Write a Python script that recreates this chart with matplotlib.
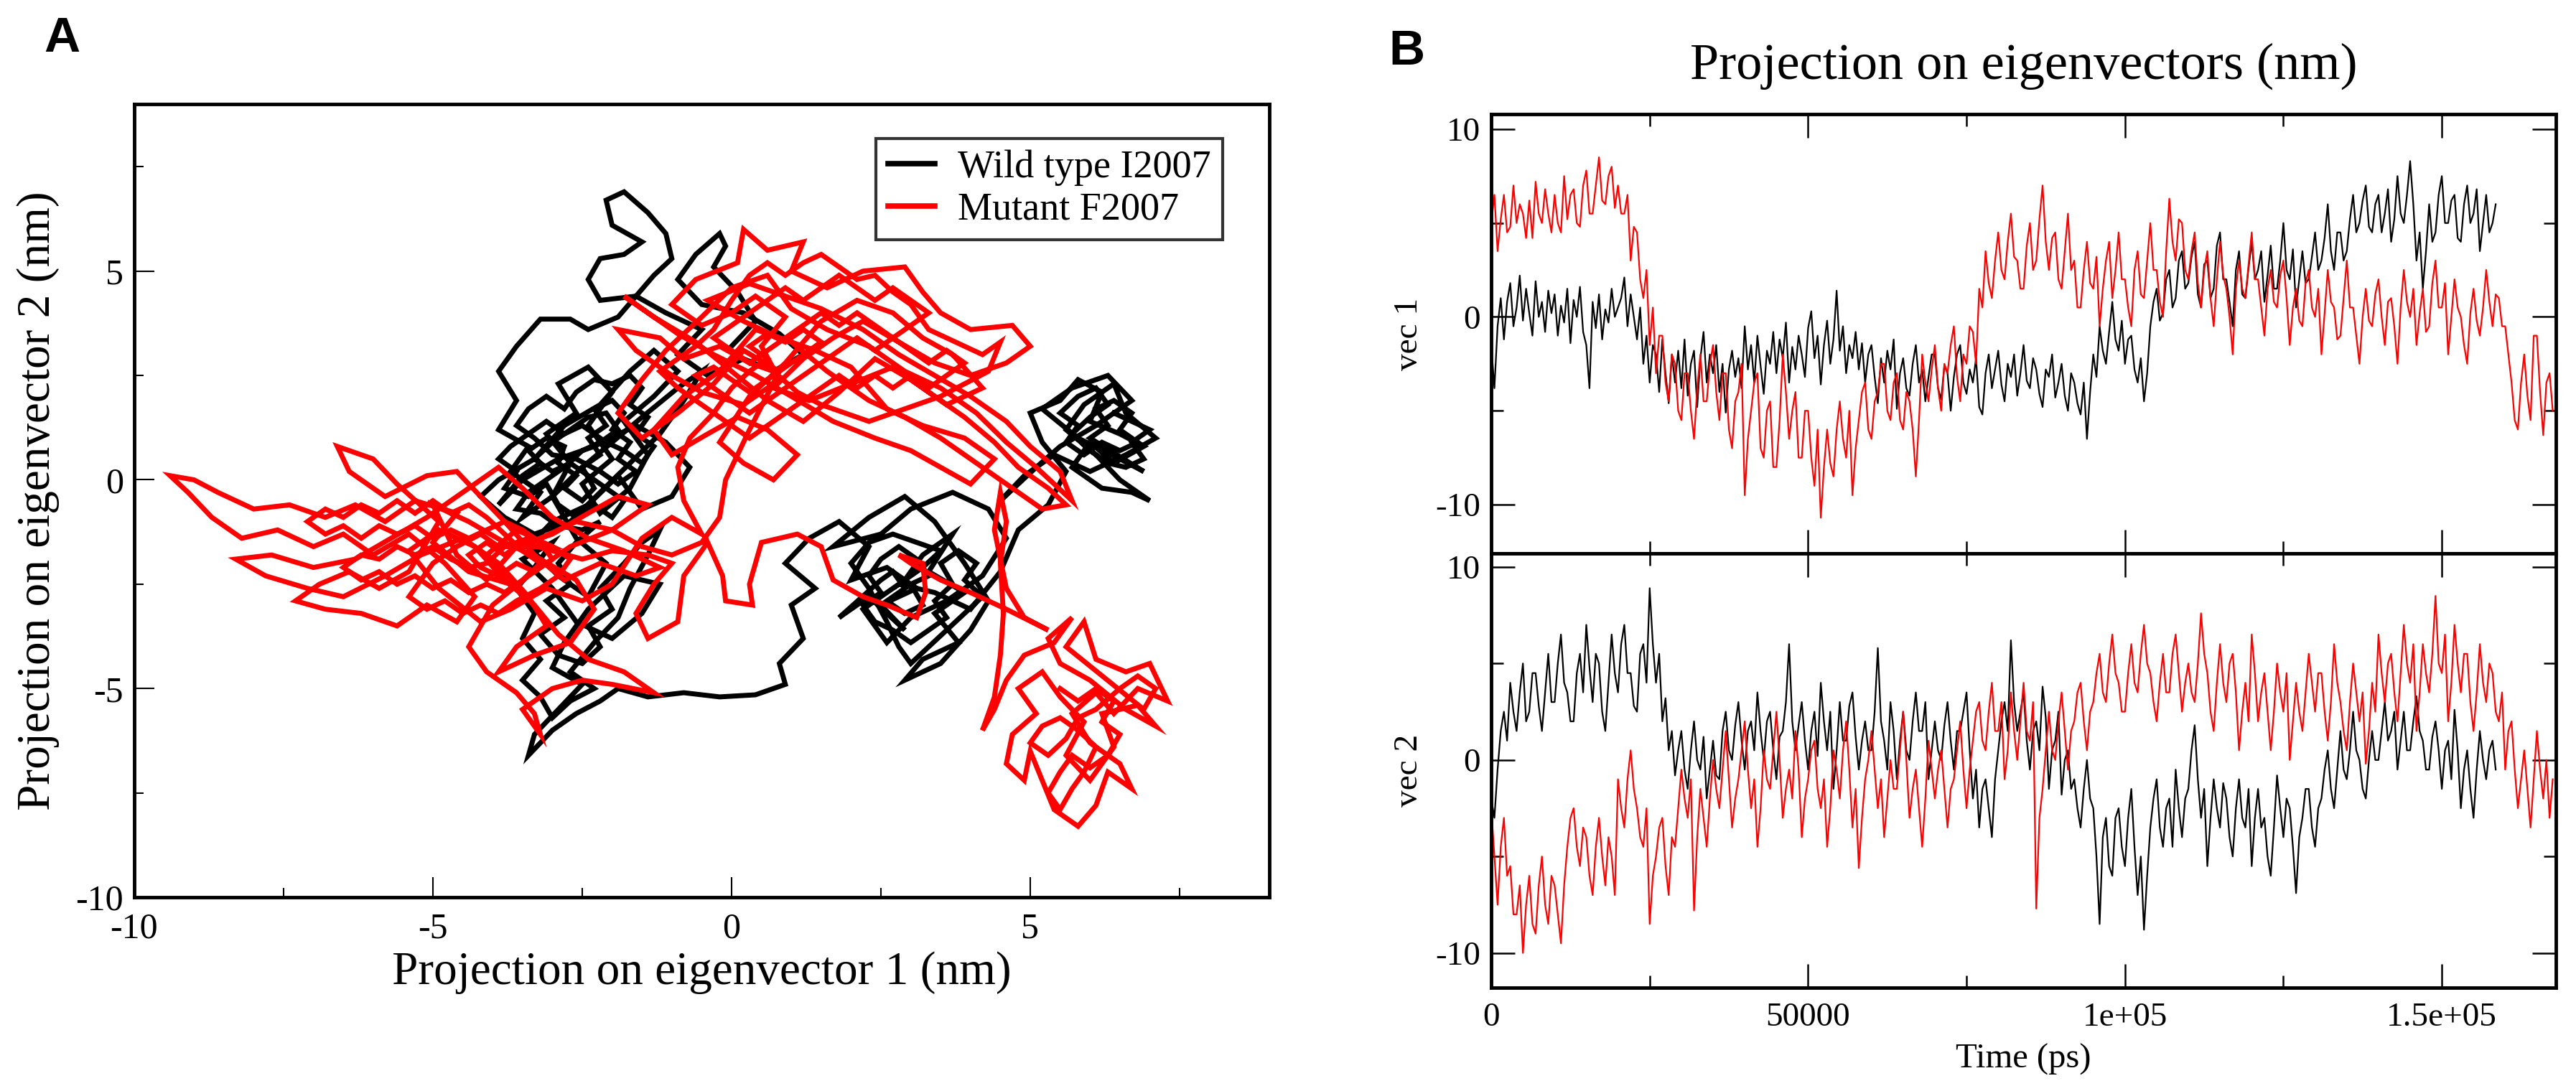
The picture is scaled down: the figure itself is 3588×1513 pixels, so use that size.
import matplotlib.pyplot as plt
from matplotlib.ticker import MultipleLocator

plt.rcParams['font.family'] = 'serif'
plt.rcParams['font.serif'] = ['Liberation Serif', 'DejaVu Serif']
plt.rcParams['axes.unicode_minus'] = False

# ---------------- panel A : 2D projection (vec1, vec2) ----------------
wt_upper_left = [
    (0.0, 3.2), (0.4, 3.8), (0.1, 4.5), (-0.3, 5.1), (-0.1, 5.6), (-0.2, 5.9), (-0.6, 5.4), (-0.9, 4.8),
    (-0.5, 4.2), (0.2, 4.0), (0.8, 3.5), (1.2, 3.0), (0.7, 2.6), (0.2, 2.9), (-0.4, 2.5), (-0.9, 3.0),
    (-0.5, 3.6), (-1.1, 4.0), (-1.6, 4.4), (-2.2, 4.3), (-2.4, 4.8), (-2.2, 5.3), (-1.8, 5.4), (-1.5, 5.7),
    (-2.0, 6.1), (-2.1, 6.7), (-1.8, 6.9), (-1.4, 6.4), (-1.1, 5.9), (-1.0, 5.3), (-1.3, 4.9), (-1.6, 4.4),
    (-1.9, 3.9), (-2.4, 3.6), (-2.7, 3.85), (-3.2, 3.85), (-3.6, 3.2), (-3.9, 2.6), (-3.6, 1.9), (-3.9, 1.2),
    (-3.4, 0.8), (-3.7, 0.2), (-3.2, -0.3), (-3.5, -0.9), (-3.0, -0.4), (-2.7, 0.4), (-3.1, 1.1), (-2.6, 1.6),
    (-2.9, 2.3), (-2.4, 2.7), (-2.0, 2.1), (-2.4, 1.3), (-2.0, 0.5), (-2.5, -0.1), (-2.2, -0.8), (-1.7, -0.2),
    (-1.4, 0.6), (-1.8, 1.4), (-1.3, 2.0), (-0.9, 2.6), (-1.3, 3.1), (-1.7, 2.6), (-2.2, 1.8), (-2.8, 1.3),
    (-3.3, 0.5), (-3.9, 0.0), (-4.2, -0.4), (-3.8, -0.9), (-3.3, -1.3), (-2.7, -1.0), (-2.2, -0.3), (-1.7, 0.4),
    (-1.2, 1.1), (-0.8, 1.9), (-0.5, 2.6), (-0.9, 2.2), (-1.5, 1.5), (-2.0, 0.9), (-2.5, 0.3), (-3.0, -0.4),
    (-2.6, -1.4), (-2.1, -2.0), (-2.4, -2.8), (-2.9, -2.3), (-3.4, -1.6), (-3.0, -1.0), (-2.4, -0.6), (-1.9, 0.1),
    (-1.5, -0.7), (-1.0, -0.4), (-0.7, 0.3), (-1.1, 0.9), (-1.6, 1.3), (-2.3, 0.8), (-2.9, 0.5), (-3.5, 0.0),
    (-3.9, -0.6),
]
wt_dense = [
    (-3.5, 0.1), (-3.2, 0.4), (-3.4, 0.7), (-3.1, 1.0), (-2.8, 0.8), (-2.9, 0.4), (-2.6, 0.1), (-2.8, -0.2),
    (-2.5, -0.5), (-2.3, -0.2), (-2.5, 0.3), (-2.2, 0.6), (-2.4, 1.0), (-2.1, 1.3), (-2.3, 1.7), (-2.0, 1.9),
    (-1.8, 1.6), (-2.0, 1.2), (-1.7, 0.9), (-1.9, 0.5), (-1.6, 0.2), (-1.9, -0.1), (-2.2, 0.2), (-2.6, 0.5),
    (-3.0, 0.6), (-3.3, 1.0), (-3.6, 1.3), (-3.4, 1.7), (-3.1, 2.0), (-2.8, 1.7), (-2.6, 2.1), (-2.3, 2.4),
    (-2.0, 2.3), (-1.7, 2.5), (-1.5, 2.2), (-1.7, 1.8), (-1.4, 1.5), (-1.6, 1.1), (-1.3, 0.8), (-1.5, 0.4),
    (-1.8, 0.7), (-2.1, 0.9), (-2.5, 1.3), (-2.8, 1.1), (-3.1, 1.4), (-3.4, 1.1), (-3.7, 0.8), (-3.9, 0.5),
    (-3.6, 0.2), (-3.8, -0.2), (-3.4, -0.4), (-3.1, -0.1), (-2.9, -0.6), (-2.6, -0.9), (-2.3, -0.6), (-2.0, -0.9),
    (-1.8, -0.5), (-2.1, -0.2), (-2.4, 0.1), (-2.7, 0.4), (-3.0, 0.2), (-3.3, 0.5), (-3.0, 0.9), (-2.7, 1.2),
    (-2.4, 1.5), (-2.1, 1.6), (-1.9, 1.2), (-2.2, 0.9), (-2.5, 0.7), (-2.8, 0.3), (-3.1, 0.0), (-3.4, -0.3),
    (-3.6, -0.7), (-3.2, -0.8), (-2.9, -1.1), (-2.5, -1.2), (-2.2, -1.0),
]
wt_strands = [
    (-2.6, -1.5), (-2.9, -2.0), (-2.7, -2.5), (-3.1, -2.9), (-2.8, -3.3), (-3.2, -3.7), (-2.9, -4.2), (-2.5, -4.4),
    (-2.2, -4.0), (-2.4, -3.5), (-2.0, -3.1), (-2.2, -2.6), (-1.8, -2.0), (-1.5, -1.5), (-1.2, -1.2), (-1.4, -1.8),
    (-1.7, -2.6), (-1.9, -3.3), (-2.3, -3.9), (-2.7, -4.6), (-2.3, -5.0), (-2.7, -5.3), (-3.0, -5.7), (-3.2, -5.2),
    (-3.5, -4.8), (-3.2, -4.3), (-3.5, -3.8), (-3.3, -3.2), (-3.6, -2.6), (-3.3, -2.1), (-3.0, -1.5),
]
wt_lower = [
    (-3.5, -1.9), (-3.0, -2.6), (-2.6, -3.4), (-2.0, -3.8), (-1.5, -3.2), (-1.2, -2.5), (-1.8, -2.3), (-2.4, -3.1),
    (-2.8, -3.9), (-3.0, -4.5), (-2.5, -4.9), (-2.9, -5.5), (-3.3, -6.1), (-3.4, -6.6), (-3.0, -6.0), (-2.6, -5.6),
    (-2.2, -5.3), (-1.9, -5.0), (-1.4, -5.2), (-0.8, -5.1), (-0.2, -5.2), (0.4, -5.15), (0.9, -4.9), (0.8, -4.4),
    (1.2, -3.8), (1.0, -3.0), (1.4, -2.6), (0.9, -2.0), (1.3, -1.4), (1.8, -1.0), (2.3, -1.6), (2.0, -2.4),
    (2.6, -2.1), (3.1, -2.6), (2.5, -3.0), (2.9, -3.6), (2.3, -2.8), (1.8, -3.3), (2.5, -2.4),
]
wt_mid_cluster = [
    (2.7, -2.2), (2.9, -2.6), (2.6, -2.9), (2.9, -3.2), (3.2, -3.0), (3.0, -2.5), (3.3, -2.3), (3.1, -1.9),
    (2.8, -1.6), (2.5, -1.9), (2.3, -2.3), (2.5, -2.7), (2.2, -3.0), (2.4, -3.4), (2.7, -3.6), (3.0, -3.9),
    (3.3, -3.6), (3.6, -3.3), (3.4, -2.9), (3.7, -2.5), (3.5, -2.0), (3.8, -1.7), (4.1, -2.0), (3.9, -2.4),
    (4.2, -2.8), (3.9, -3.2), (3.6, -3.6), (3.3, -4.0), (3.0, -4.4), (2.8, -4.0), (2.6, -3.4), (2.3, -2.6),
    (2.0, -2.0), (2.3, -1.5), (2.7, -1.3), (3.1, -1.5), (3.5, -1.7), (3.2, -2.1), (2.9, -2.4),
]
wt_right = [
    (3.2, -1.8), (3.7, -1.3), (3.3, -2.2), (3.9, -2.7), (3.4, -3.2), (3.8, -3.9), (3.2, -4.3), (2.9, -4.8),
    (3.5, -4.4), (4.0, -3.6), (4.3, -2.9), (3.9, -2.0), (3.4, -1.0), (2.9, -0.4), (2.3, -0.9), (1.7, -1.6),
    (2.5, -1.3), (3.0, -0.7), (3.7, -0.3), (4.3, -0.7), (4.6, -1.4), (4.2, -2.3), (3.6, -2.9), (3.0, -3.3),
    (2.6, -3.9), (2.2, -3.1), (2.8, -2.5), (3.4, -2.7), (4.0, -3.1), (4.5, -2.2), (4.8, -1.2), (5.3, -0.6),
    (5.6, 0.2), (5.2, 0.9), (5.0, 1.6), (5.5, 1.9), (5.8, 2.4), (6.2, 2.1), (6.0, 1.4), (6.5, 1.1),
    (6.9, 0.8), (6.4, 0.4), (6.0, 0.9), (5.7, 0.3), (6.2, -0.2), (6.7, -0.3), (7.0, -0.5), (6.5, 0.0),
    (6.1, 0.6), (5.6, 1.2), (5.9, 1.8), (6.4, 2.3), (6.6, 1.6), (7.1, 1.0), (6.6, 0.6), (6.0, 0.2),
    (5.4, 0.6), (4.9, 0.1), (4.5, -0.5), (5.1, 0.3), (5.5, 0.8), (6.1, 1.3), (6.7, 1.9), (6.3, 2.5),
    (5.7, 2.2), (5.2, 1.7), (5.8, 1.0), (6.5, 0.5), (6.9, 0.2),
]
wt_right_dense = [
    (6.0, 1.0), (6.3, 1.3), (6.1, 1.7), (6.4, 1.9), (6.7, 1.6), (6.5, 1.2), (6.8, 0.9), (6.5, 0.7),
    (6.2, 0.9), (5.9, 0.6), (5.6, 0.9), (5.8, 1.3), (5.5, 1.6), (5.8, 2.0), (6.1, 2.2), (6.3, 1.8),
    (6.0, 1.5), (5.7, 1.1), (6.0, 0.7), (6.3, 0.4), (6.6, 0.3), (6.9, 0.5), (6.7, 0.9), (7.0, 1.2),
    (6.7, 1.4), (6.4, 1.6),
]

mut_right_dense = [
    (5.5, -5.0), (5.8, -5.3), (6.1, -5.0), (6.4, -5.3), (6.2, -5.8), (6.5, -6.1), (6.3, -6.6), (6.0, -6.9),
    (5.7, -6.6), (5.5, -7.0), (5.3, -7.5), (5.5, -7.9), (5.7, -7.4), (5.9, -7.0), (6.1, -6.4), (5.8, -6.0),
    (5.5, -5.7), (5.2, -5.9), (5.0, -6.3), (5.3, -6.6), (5.6, -6.2), (5.8, -5.7), (6.1, -5.5), (6.5, -5.0),
    (6.8, -4.7), (7.1, -5.0), (6.9, -5.5),
]
mut_right = [
    (5.6, -4.0), (5.9, -3.4), (6.1, -4.3), (6.6, -4.6), (7.0, -4.4), (7.3, -5.3), (6.8, -5.0), (6.4, -5.6),
    (6.1, -5.1), (5.7, -5.6), (6.0, -6.3), (6.5, -6.8), (6.7, -7.4), (6.3, -7.0), (6.1, -7.8), (5.8, -8.3),
    (5.4, -7.9), (5.2, -7.2), (5.0, -6.5), (4.9, -7.2), (4.6, -6.8), (4.7, -6.1), (5.1, -5.6), (4.8, -5.0),
    (5.2, -4.6), (5.5, -5.2), (5.9, -5.8), (5.6, -6.6), (6.0, -7.2), (6.4, -6.4), (6.2, -5.6), (6.8, -5.4),
    (7.1, -5.9), (6.6, -5.5), (6.0, -4.8), (5.5, -4.4), (5.3, -3.8), (5.7, -3.3), (5.4, -3.9), (4.9, -4.2),
    (4.6, -4.8), (4.4, -5.5), (4.2, -6.0), (4.4, -5.2), (4.5, -4.2), (4.55, -3.2), (4.5, -2.0), (4.6, -1.0),
    (4.5, -0.3), (4.4, -1.2), (4.6, -2.6), (4.9, -3.3), (5.3, -3.6),
    (4.6, -3.1), (4.0, -2.7), (3.5, -2.4), (3.0, -2.0), (2.8, -1.8), (3.2, -2.0), (3.25, -2.7), (3.1, -3.3),
    (2.6, -3.0), (2.2, -2.8), (1.7, -2.4), (1.5, -1.6), (1.1, -1.3), (0.5, -1.5), (0.3, -2.5), (0.35, -3.0),
    (-0.1, -2.9), (-0.15, -2.3), (-0.4, -1.5), (-0.8, -2.3), (-0.9, -3.4), (-1.4, -3.8), (-1.6, -3.2),
    (-1.3, -2.5), (-1.0, -2.0), (-1.4, -1.8), (-2.0, -1.7), (-2.5, -1.9),
]
mut_left_dense = [
    (-3.5, -1.5), (-3.8, -1.8), (-4.1, -1.5), (-4.4, -1.8), (-4.2, -2.1), (-3.9, -2.3), (-3.6, -2.0), (-3.3, -2.2),
    (-3.0, -1.9), (-3.2, -1.5), (-3.5, -1.2), (-3.8, -1.0), (-4.1, -1.2), (-4.4, -1.4), (-4.7, -1.2), (-5.0, -1.4),
    (-5.3, -1.1), (-5.6, -1.3), (-5.9, -1.1), (-6.2, -1.4), (-6.5, -1.1), (-6.8, -1.3), (-7.1, -1.0), (-6.8, -0.7),
    (-6.5, -0.9), (-6.2, -0.6), (-5.9, -0.8), (-5.6, -0.5), (-5.3, -0.8), (-5.0, -0.5), (-4.7, -0.8), (-4.4, -0.6),
    (-4.1, -0.9), (-3.8, -1.3), (-3.5, -1.7), (-3.2, -2.0), (-3.5, -2.4), (-3.8, -2.7), (-4.1, -2.5), (-4.4, -2.7),
    (-4.7, -2.4), (-5.0, -2.6), (-5.3, -2.3), (-5.6, -2.5), (-5.9, -2.2), (-6.2, -2.4), (-6.5, -2.1), (-6.2, -1.8),
    (-5.9, -1.9), (-5.6, -1.6), (-5.3, -1.8), (-5.0, -1.6), (-4.7, -1.9), (-4.4, -2.1), (-4.1, -2.0), (-3.8, -1.6),
    (-3.4, -1.4), (-3.0, -1.6), (-2.7, -1.9), (-2.9, -2.3), (-3.2, -2.6), (-3.6, -2.9), (-3.9, -3.2), (-4.2, -3.0),
    (-4.5, -3.2), (-4.8, -2.9), (-5.1, -3.1), (-5.4, -2.8), (-5.0, -2.0), (-4.6, -1.6), (-4.2, -1.3), (-3.9, -1.6),
]
mut_left = [
    (-3.0, -1.6), (-3.6, -1.2), (-4.1, -1.8), (-3.7, -2.5), (-4.4, -2.2), (-5.0, -1.5), (-4.6, -0.8), (-5.3, -0.5),
    (-5.8, -1.0), (-6.3, -0.6), (-6.8, -0.9), (-7.4, -0.6), (-8.0, -0.7), (-8.6, -0.3), (-9.0, 0.0), (-9.4, 0.1),
    (-9.1, -0.3), (-8.7, -0.9), (-8.2, -1.4), (-7.6, -1.2), (-7.0, -1.6), (-6.5, -1.3), (-6.0, -1.8), (-5.4, -1.3),
    (-4.8, -2.0), (-4.3, -2.8), (-4.6, -3.4), (-5.1, -3.0), (-5.6, -3.5), (-6.2, -3.2), (-6.8, -3.1), (-7.3, -2.9),
    (-6.9, -2.5), (-6.4, -2.2), (-5.9, -2.6), (-5.4, -2.2), (-4.9, -1.0), (-5.6, -0.1), (-6.0, 0.5), (-6.6, 0.8),
    (-6.4, 0.2), (-5.8, -0.4), (-5.1, 0.1), (-4.6, 0.2), (-4.2, -0.4), (-3.8, -1.0), (-3.3, -1.8), (-2.8, -2.4),
    (-2.2, -2.0), (-1.6, -2.3), (-1.2, -2.1), (-1.8, -1.7), (-2.4, -1.4), (-3.0, -0.9), (-3.5, -0.2), (-3.9, 0.3),
    (-4.5, -0.3), (-5.1, -0.9), (-5.7, -1.4), (-6.3, -1.9), (-7.0, -2.1), (-7.7, -1.8), (-8.3, -1.9), (-7.8, -2.3),
    (-7.1, -2.6), (-6.5, -2.8), (-5.8, -2.3), (-5.2, -1.8), (-4.5, -1.4), (-3.9, -2.0), (-3.4, -2.8), (-3.1, -3.5),
    (-3.6, -4.0), (-3.9, -4.6), (-3.3, -4.2), (-2.7, -3.9), (-2.3, -3.1), (-2.6, -2.4), (-3.2, -1.9), (-3.8, -1.5),
    (-4.4, -1.0), (-5.0, -0.6), (-4.6, -1.8), (-4.1, -2.4), (-3.6, -1.6), (-3.0, -1.3), (-2.4, -0.8), (-1.9, -0.4),
    (-1.4, -0.6), (-2.0, -1.2), (-2.7, -1.6), (-3.4, -2.3), (-4.0, -3.0), (-4.4, -4.0), (-4.1, -4.6), (-3.6, -5.1),
    (-3.3, -5.6), (-3.2, -6.1), (-3.5, -5.5), (-3.0, -5.0), (-2.5, -4.8), (-2.0, -4.9), (-1.3, -5.1), (-1.8, -4.6),
    (-2.4, -4.3), (-2.9, -3.7), (-3.3, -3.0), (-3.8, -2.4), (-4.3, -1.6), (-4.9, -1.2), (-5.4, -1.7), (-4.9, -2.6),
    (-4.2, -3.4), (-3.7, -3.1), (-3.1, -2.6), (-2.5, -2.9), (-2.0, -2.5), (-1.5, -1.4), (-1.0, -0.9), (-0.5, -1.3),
    (-0.8, -0.5), (-0.9, 0.3), (-0.7, 1.0), (-0.3, 1.6), (0.0, 2.2),
]
mut_upper_dense = [
    (0.3, 2.6), (0.6, 2.9), (0.3, 3.2), (0.6, 3.5), (0.9, 3.3), (1.2, 3.6), (1.5, 3.3), (1.2, 3.0),
    (0.9, 2.7), (0.6, 2.4), (0.3, 2.1), (0.0, 2.4), (-0.3, 2.7), (-0.6, 2.5), (-0.3, 2.2), (0.0, 1.9),
    (0.3, 1.6), (0.6, 1.9), (0.9, 2.2), (1.2, 2.5), (1.5, 2.8), (1.8, 3.1), (2.1, 3.4), (2.4, 3.1),
    (2.7, 3.4), (3.0, 3.7), (3.3, 4.0), (3.0, 4.3), (2.7, 4.6), (2.4, 4.3), (2.1, 4.6), (1.8, 4.9),
    (1.5, 4.6), (1.2, 4.3), (0.9, 4.6), (0.6, 4.3), (0.3, 4.0), (0.0, 3.7), (-0.3, 3.4), (0.0, 3.1),
    (0.3, 2.8), (0.6, 3.1), (0.9, 3.4), (1.2, 3.7), (1.5, 4.0), (1.8, 3.7), (2.1, 4.0), (2.4, 3.7),
    (2.7, 3.4), (3.0, 3.1), (3.3, 2.8), (3.6, 3.1), (3.9, 2.8), (3.6, 2.5), (3.3, 2.2), (3.0, 2.5),
    (2.7, 2.2), (2.4, 2.5), (2.1, 2.2), (1.8, 2.5), (1.5, 2.2), (1.2, 1.9), (0.9, 1.6), (0.6, 1.3),
    (0.3, 1.0), (0.0, 1.3), (-0.3, 1.6), (-0.6, 1.9), (-0.9, 2.2), (-1.2, 2.6), (-0.9, 2.9), (-0.6, 3.2),
    (-0.3, 3.6), (0.0, 4.3), (0.3, 4.9), (0.6, 5.2), (0.9, 4.9), (1.2, 5.2), (1.5, 5.4), (1.8, 5.1),
    (2.1, 4.8), (2.4, 4.9), (2.7, 4.5), (3.0, 4.2), (3.3, 3.6), (3.6, 3.4), (3.9, 3.2), (4.2, 3.0),
    (4.5, 3.3), (4.3, 2.6), (3.9, 2.3), (3.5, 2.0), (3.1, 1.8), (2.7, 1.6), (2.3, 1.4), (1.9, 1.6),
    (1.5, 1.8), (1.1, 2.1), (0.7, 2.6),
]
mut_upper = [
    (0.3, 2.8), (-0.2, 3.2), (-0.8, 2.9), (-1.2, 3.4), (-1.9, 3.6), (-1.6, 3.1), (-1.0, 2.5), (-0.5, 2.1),
    (0.2, 1.8), (0.8, 2.4), (0.5, 3.2), (0.9, 3.9), (0.4, 4.4), (0.0, 4.0), (-0.5, 3.7), (-1.0, 4.2),
    (-0.6, 4.8), (0.1, 5.2), (0.2, 6.0), (0.6, 5.5), (1.2, 5.7), (1.0, 5.0), (1.6, 4.6), (2.2, 5.0),
    (2.9, 5.1), (3.2, 4.5), (3.5, 4.0), (4.0, 3.6), (4.7, 3.7), (5.0, 3.2), (4.6, 2.8), (4.0, 2.5),
    (3.4, 2.8), (2.8, 3.3), (2.2, 3.8), (1.7, 3.4), (1.2, 2.9), (0.7, 2.2), (1.3, 1.9), (2.0, 2.3),
    (2.7, 2.7), (3.3, 2.1), (3.9, 1.5), (4.4, 0.9), (4.8, 0.3), (5.3, -0.2), (5.6, -0.6), (5.2, -0.7),
    (4.7, -0.2), (4.1, 0.4), (3.5, 1.0), (2.9, 1.5), (2.3, 1.9), (1.6, 2.6), (1.0, 3.3), (0.4, 3.6),
    (-0.2, 2.6), (-0.8, 2.0), (-1.3, 1.2), (-1.0, 0.6), (-0.4, 1.1), (0.1, 1.5), (0.6, 1.2), (1.1, 0.6),
    (0.7, 0.0), (0.2, 0.4), (-0.2, 0.9), (0.3, 2.0), (0.9, 2.8), (1.5, 3.8), (2.1, 4.3), (2.7, 4.0),
    (3.2, 3.4), (3.7, 3.0), (4.2, 2.2), (3.6, 1.8), (3.0, 2.4), (2.4, 2.9), (1.8, 2.1), (1.2, 1.4),
    (0.6, 1.9), (0.0, 2.6), (-0.6, 3.3), (-1.3, 3.9), (-1.8, 4.4), (-1.4, 4.0), (-0.9, 3.5), (-0.3, 3.0),
    (0.4, 2.5), (1.0, 2.0), (1.7, 1.4), (2.4, 1.0), (3.0, 0.7), (3.5, 0.3), (4.0, -0.1), (4.4, 0.5),
    (3.9, 1.0), (3.2, 1.3), (2.6, 1.7), (2.0, 2.7), (1.4, 3.1), (0.8, 3.4), (0.2, 3.8), (-0.4, 4.3),
    (0.3, 4.7), (0.9, 4.4), (1.5, 4.1), (2.2, 3.6), (2.8, 3.0), (3.4, 2.5), (4.0, 2.0), (4.6, 1.4),
    (5.0, 0.8), (5.5, 0.2), (5.7, -0.5), (5.1, 0.3), (4.6, 0.9), (4.1, 1.6), (3.5, 2.2), (2.9, 2.6),
    (2.3, 3.2), (1.6, 3.6), (1.0, 4.1), (0.6, 4.9), (0.0, 4.6), (-0.5, 3.9), (-1.1, 3.1), (-1.5, 2.4),
    (-1.9, 1.6), (-1.5, 1.0), (-0.9, 1.6), (-0.3, 2.3), (0.2, 3.1), (0.8, 2.6),
    (0.3, 1.2), (-0.1, 0.0), (-0.2, -0.9), (-0.5, -1.5), (-1.0, -1.8), (-1.5, -1.6), (-2.0, -1.2),
    (-2.6, -1.0), (-3.2, -1.4),
]

wt_path = wt_upper_left + wt_dense + wt_strands + wt_lower + wt_mid_cluster + wt_right + wt_right_dense
mut_path = mut_right_dense + mut_right + mut_left_dense + mut_left + mut_upper_dense + mut_upper

# ---------------- panel B : projections vs time, one value per 500 ps ----------------
wt_vec1 = [
    -1.5, -3.8, -0.5, 1.0, -1.2, 0.8, 1.8, -0.5, 0.5, 2.2, -0.2, 1.5, 0.2, -1.0, 1.9, 0.0, 0.8, -0.8, 1.4, 0.2,
    1.2, -1.0, 0.6, -0.3, 1.5, -1.4, 0.9, 0.0, 1.6, -0.8, -1.5, -3.8, 0.8, -0.6, 1.2, -1.2, 0.4, -0.3, 1.5, 0.0,
    0.5, 1.0, 2.1, -0.5, 1.2, 0.0, -1.2, 0.5, -2.5, -1.0, -3.5, -1.5, -2.0, -4.0, -1.2, -3.0, -4.6, -2.0, -3.5, -1.8,
    -3.8, -1.2, -4.2, -2.5, -1.8, -4.8, -2.2, -0.8, -3.5, -2.0, -3.0, -1.5, -4.0, -2.5, -5.1, -2.8, -1.8, -3.2, -2.2, -3.8,
    -0.5, -2.8, -1.5, -3.5, -1.0, -2.6, -4.1, -1.8, -2.5, -0.8, -3.0, -1.2, -2.2, -0.3, -3.5, -1.6, -2.8, -1.0, -2.0, -3.2,
    -0.6, 0.3, -2.2, -1.0, -3.6, -1.5, -0.2, -2.5, -1.2, 1.4, -1.8, -0.5, -3.0, -1.5, -2.2, -0.8, -2.8, -1.4, -3.5, -2.0,
    -1.5, -3.2, -4.6, -2.2, -3.5, -1.8, -2.8, -1.2, -4.9, -3.0, -2.2, -3.8, -4.2, -2.5, -1.5, -3.5, -2.8, -4.5, -3.2, -2.0,
    -2.0, -3.8, -4.4, -2.6, -3.0, -5.0, -3.2, -2.0, -1.5, -3.5, -4.1, -2.8, -3.5, -2.2, -4.8, -5.2, -3.0, -2.0, -3.8, -2.8,
    -1.8, -3.6, -4.5, -2.5, -3.2, -2.0, -4.2, -3.0, -1.5, -3.4, -3.8, -2.2, -2.8, -4.1, -4.8, -2.8, -3.2, -2.0, -4.3, -3.5,
    -2.5, -4.2, -5.0, -3.0, -3.5, -4.6, -5.2, -3.5, -6.5, -4.0, -2.0, -3.2, -0.5, -1.8, -2.5, -0.8, 0.8, -1.2, -1.8, -0.2,
    -2.5, -1.2, -1.0, -2.8, -3.5, -2.2, -4.5, -3.0, -0.5, 0.8, 1.5, -0.2, 0.2, 2.0, 2.5, 0.5, 1.0, 3.0, 3.5, 1.5,
    1.8, 3.2, 4.0, 1.2, 0.5, 2.8, 3.0, 1.0, 1.5, 3.8, 4.5, 2.0, 2.0, 0.8, -0.5, 2.5, 3.5, 1.2, 1.0, 2.6,
    4.0, 2.0, 2.5, 3.5, 0.8, 2.2, 3.8, 1.5, 1.5, 3.0, 5.0, 2.5, 2.0, 3.6, 0.5, 2.0, 3.5, 1.8, 2.0, 3.2,
    4.5, 2.5, 3.0, 4.2, 6.0, 3.5, 2.5, 4.5, 4.5, 3.0, 3.5, 5.2, 6.5, 4.5, 5.0, 6.2, 7.0, 4.8, 4.5, 6.0,
    6.5, 4.5, 5.5, 6.8, 4.0, 5.2, 7.5, 5.5, 5.0, 6.5, 8.3, 6.0, 3.0, 4.5, 1.5, 3.5, 6.0, 4.0, 4.5, 6.5,
    7.5, 5.0, 5.0, 6.2, 6.5, 4.2, 4.0, 6.0, 7.0, 5.0, 5.5, 6.8, 3.5, 5.0, 6.5, 4.5, 5.0, 6.0,
]
mut_vec1 = [
    5.0, 6.5, 3.5, 5.2, 6.5, 4.5, 4.8, 7.0, 5.0, 6.0, 5.5, 4.2, 6.2, 4.2, 7.2, 5.5, 5.0, 6.8, 5.5, 4.5,
    6.5, 5.0, 4.5, 7.5, 5.2, 6.5, 6.8, 5.0, 4.8, 7.0, 7.8, 5.5, 5.5, 7.0, 8.5, 6.2, 6.0, 7.5, 8.0, 5.8,
    7.0, 5.5, 5.5, 6.5, 3.0, 4.8, 4.5, 2.0, 1.0, 2.5, -1.5, 0.5, -3.0, -1.0, -1.0, -3.5, -4.5, -2.0, -2.5, -5.0,
    -5.5, -3.0, -3.0, -5.0, -6.5, -3.8, -2.0, -4.5, -4.5, -2.5, -1.5, -4.0, -5.5, -3.0, -3.0, -6.0, -7.0, -4.5, -4.0, -2.5,
    -9.5, -6.5, -5.0, -3.5, -3.0, -7.0, -7.5, -5.0, -4.5, -8.0, -8.0, -5.5, -2.0, -4.0, -6.5, -5.0, -4.0, -7.5, -7.5, -5.0,
    -5.0, -7.5, -9.0, -6.0, -10.7, -8.0, -6.0, -7.8, -8.5, -6.0, -4.5, -6.5, -7.5, -5.0, -9.5, -7.0, -5.5, -4.0, -3.5, -6.0,
    -6.5, -4.5, -4.0, -2.5, -2.5, -5.0, -5.5, -3.5, -3.0, -5.5, -6.0, -4.0, -4.5, -6.0, -8.5, -5.5, -2.0, -3.5, -4.5, -2.8,
    -1.5, -3.8, -5.0, -2.5, -3.0, -1.5, -0.5, -3.2, -4.5, -2.0, -2.5, -0.5, -0.8, -2.5, 1.5, 0.5, 3.5, 1.8, 1.0, 3.0,
    4.5, 2.5, 2.0, 4.0, 5.5, 3.2, 3.0, 1.5, 1.5, 3.8, 5.0, 2.5, 3.0, 5.2, 7.0, 4.0, 2.5, 4.2, 4.5, 2.0,
    1.5, 3.5, 5.5, 2.5, 3.0, 0.5, 0.5, 2.5, 4.0, 1.8, 1.5, 3.2, -0.5, 1.5, 3.0, 4.0, 1.0, 2.5, 4.5, 2.0,
    2.0, 0.5, -0.5, 2.5, 3.5, 1.2, 1.0, 3.0, 5.0, 2.5, 2.5, 0.8, 0.0, 3.5, 6.3, 4.0, 3.0, 5.2, 5.0, 2.5,
    2.0, 3.5, 4.5, 1.8, 0.5, 2.5, 3.5, 1.0, -0.5, 2.0, 4.0, 2.2, 1.5, 0.0, -2.0, 1.5, 3.0, 1.5, 1.0, 2.8,
    4.5, 2.0, 2.0, 0.5, -1.0, 1.5, 2.5, 0.8, 0.5, 2.2, 3.0, 1.0, -1.5, 0.5, 1.5, -0.2, -0.5, 1.8, 2.5, 0.5,
    0.0, 1.5, -2.0, 0.2, 2.5, 0.8, 0.5, -1.2, -1.0, 1.0, 3.0, 0.5, 0.5, -1.0, -2.5, 0.0, 1.5, -0.2, -0.5, 1.2,
    2.0, 0.0, -1.5, 0.8, 1.0, -0.5, -2.5, 0.5, 2.5, 0.8, 0.0, 1.5, -1.5, 0.2, 1.5, -0.8, -0.5, 1.8, 3.0, 0.5,
    0.5, 1.8, -2.0, 0.0, 2.0, 0.5, 0.0, -1.5, -2.5, 0.2, 1.5, -0.2, -1.0, 0.5, 2.5, 0.8, -0.5, 1.2, 1.0, -0.5,
    -0.5, -2.0, -3.5, -5.5, -6.0, -3.5, -2.0, -4.2, -5.5, -1.0, -1.0, -4.0, -6.3, -3.5, -3.0, -5.0,
]
wt_vec2 = [
    -2.0, -3.0, -0.5, 1.5, 2.5, 1.0, 4.0, 2.5, 1.5, 3.5, 5.0, 2.0, 2.5, 4.5, 4.5, 2.8, 1.5, 3.5, 5.5, 3.0,
    3.0, 5.0, 6.5, 4.0, 3.5, 2.0, 2.0, 4.5, 5.5, 3.5, 7.0, 4.8, 3.0, 5.5, 5.0, 2.5, 1.5, 4.0, 6.5, 4.5,
    3.5, 6.0, 7.0, 4.5, 4.5, 2.8, 2.5, 5.5, 6.0, 4.0, 8.9, 6.0, 4.0, 5.5, 2.0, 3.2, 0.5, 1.5, -0.8, 0.5,
    1.5, -0.5, -1.5, 0.5, 2.0, 0.0, -0.5, 1.2, -2.0, -0.5, 1.0, -0.8, -1.0, 1.5, 2.5, 0.5, 0.0, 1.8, 3.0, 1.0,
    -0.5, 1.5, 2.0, 0.5, 3.5, 1.5, 0.0, 2.0, 2.5, 0.5, -1.0, 1.2, 1.5, 3.0, 6.0, 2.0, 0.5, 1.8, 3.0, 1.0,
    -0.5, 1.5, 2.5, 0.2, 4.0, 2.0, 0.5, 2.5, -1.5, 0.5, 3.0, 1.0, 1.0, 2.8, 3.5, 1.2, -0.5, 1.0, 2.0, 0.5,
    0.5, 2.5, 5.8, 2.0, 1.0, -0.5, 3.0, 1.5, -1.0, 1.0, 2.5, 0.5, 0.0, 2.0, 3.5, 1.5, 1.5, 3.0, -1.0, 0.5,
    2.0, 0.5, 0.0, 1.8, 3.0, 1.0, -0.5, 1.5, 1.5, 2.5, 3.5, 0.5, -2.0, -0.5, -3.5, -1.5, -1.0, -2.5, -4.0, -1.0,
    0.5, 2.0, 3.0, 1.5, 6.2, 3.0, 1.5, 2.5, 3.5, 1.0, -0.5, 1.5, 2.0, 0.5, 3.8, 2.2, -1.5, 0.5, 1.0, 2.5,
    -1.8, 0.0, 0.5, -1.5, -1.0, -2.5, -3.5, -1.5, 0.0, -2.0, -2.5, -5.0, -8.5, -4.0, -3.0, -5.5, -6.0, -3.0, -2.5, -4.5,
    -5.5, -3.0, -1.5, -4.5, -7.0, -5.0, -8.8, -6.0, -3.5, -2.0, -1.0, -3.5, -4.5, -2.5, -2.0, -4.5, -0.5, -2.5, -4.0, -2.0,
    -1.5, 0.5, 1.8, -1.0, -3.0, -1.5, -5.5, -3.0, -1.0, -2.5, -3.5, -1.2, -2.0, -4.0, -5.0, -2.5, -1.0, -3.0, -3.5, -1.5,
    -5.5, -3.0, -1.5, -3.5, -3.0, -5.0, -6.0, -3.5, -0.8, -2.5, -4.0, -2.0, -2.5, -4.5, -6.9, -4.0, -3.0, -1.5, -1.5, -3.5,
    -4.5, -2.5, -2.0, -0.5, 0.5, -1.5, -2.5, -0.5, 1.5, -0.5, -1.0, 0.5, 2.5, 0.5, 0.0, -1.5, -2.0, 0.0, 1.5, 0.0,
    0.0, 1.5, 3.0, 1.0, 1.5, 2.5, -0.5, 1.0, 2.5, 0.5, 0.5, 2.0, 3.3, 1.5, 1.0, -0.5, -0.5, 1.2, 2.0, 0.5,
    -1.5, 0.5, 1.0, -1.0, 2.6, 0.5, -2.5, -0.5, 0.5, -1.5, -3.0, -0.5, 1.5, 0.0, -1.0, 0.5, 1.0, -0.5,
]
mut_vec2 = [
    -2.5, -5.0, -7.5, -4.5, -3.0, -6.0, -5.5, -8.0, -8.0, -6.5, -10.0, -7.5, -6.0, -8.5, -9.0, -6.5, -5.0, -7.5, -8.5, -6.0,
    -6.5, -8.0, -9.5, -6.5, -4.5, -3.0, -2.5, -4.5, -5.5, -3.5, -4.0, -6.0, -7.0, -4.5, -3.0, -5.0, -6.5, -4.0, -5.0, -7.0,
    -1.0, -2.5, -3.5, -1.0, 0.5, -1.5, -2.5, -4.0, -4.5, -2.5, -8.5, -6.0, -5.0, -3.5, -3.0, -5.5, -7.0, -4.0, -4.5, -2.5,
    -0.5, -2.0, -3.0, -1.0, -7.8, -4.0, -1.5, -3.0, -4.5, -2.0, 0.0, -1.5, -2.5, -0.5, 1.5, -1.0, -3.5, -2.0, -1.0, 0.5,
    2.0, -0.5, -2.5, -1.0, -4.5, -2.5, 0.5, -1.0, -1.5, 0.5, 2.5, 0.0, -3.0, -1.5, -0.5, -2.0, 1.5, -0.5, -4.0, -2.0,
    -1.0, 0.5, 1.0, -1.5, -2.5, -1.0, -4.5, -2.5, 0.5, -0.5, -2.0, 0.5, 2.0, -0.5, -3.5, -1.5, -5.6, -3.0, -1.0, 0.0,
    1.5, -0.5, -2.5, -1.0, -4.0, -2.0, 0.0, -1.5, -1.5, 0.5, 2.5, 0.0, -3.0, -1.5, -0.5, -2.5, -4.5, -2.0, 1.0, -0.5,
    -2.0, -0.5, 0.5, -1.5, -3.5, -1.5, -1.0, 0.5, 2.0, -0.5, -2.5, -0.5, 1.0, 2.5, 3.0, 1.0, 0.5, 2.5, 4.0, 1.5,
    1.5, 3.0, -1.0, 0.5, 3.5, 1.5, 0.0, 2.0, 4.0, 1.5, 1.0, 3.0, -7.7, -3.0, -1.5, 0.5, 2.5, 0.5, 0.0, 2.0,
    3.5, 1.5, -0.5, 1.5, 2.0, 3.5, 4.0, 2.0, 0.5, 2.5, 3.0, 4.5, 5.5, 3.5, 3.0, 5.0, 6.5, 4.5, 4.0, 2.5,
    2.5, 4.5, 6.0, 4.0, 3.5, 5.5, 7.0, 5.0, 4.5, 3.0, 2.0, 4.0, 5.5, 3.5, 3.5, 5.5, 6.5, 4.5, 2.5, 4.0,
    5.0, 3.5, 3.0, 5.0, 7.6, 5.5, 4.5, 2.5, 1.5, 4.0, 6.0, 4.0, 3.0, 5.0, 5.5, 3.5, 0.5, 2.5, 4.0, 2.0,
    6.5, 4.5, 2.0, 3.5, 4.5, 2.5, 0.5, 2.5, 5.0, 3.5, 2.5, 4.5, 0.0, 2.0, 4.0, 2.5, 1.5, 3.5, 5.5, 4.0,
    2.5, 4.5, 4.5, 2.5, 1.0, 3.0, 6.0, 4.0, 3.0, 1.5, 0.5, 3.0, 5.0, 3.5, 2.0, 3.5, -0.2, 1.5, 4.0, 2.5,
    6.5, 4.5, 3.0, 5.0, 5.5, 3.5, 2.0, 4.5, 7.0, 5.0, 4.0, 6.0, 1.5, 3.5, 6.0, 4.5, 3.5, 5.5, 8.5, 5.0,
    4.5, 6.5, 2.0, 4.0, 7.0, 5.0, 3.5, 5.5, 5.5, 3.0, 1.5, 3.5, 6.0, 4.0, 3.0, 5.0, 4.5, 2.5, 2.0, 3.5,
    -0.5, 1.5, 2.0, -0.5, -2.5, -1.0, 0.5, -1.5, -3.5, -1.0, 1.5, -0.5, -2.0, 0.0, -3.0, -1.0,
]
step_ps = 500
wt_time = [i * step_ps for i in range(len(wt_vec1))]
mut_time = [i * step_ps for i in range(len(mut_vec1))]

time_ticks = [0, 50000, 100000, 150000]
time_labels = ['0', '50000', '1e+05', '1.5e+05']

serif = ['Liberation Serif', 'DejaVu Serif']

# ---------------- figure ----------------
fig = plt.figure(figsize=(35.88, 15.13), dpi=100)

# panel A
axA = fig.add_axes([0.0521, 0.1738, 0.4406, 0.7303])
axA.plot([p[0] for p in wt_path], [p[1] for p in wt_path], color='black', lw=5,
         solid_joinstyle='miter', label='Wild type I2007')
axA.plot([p[0] for p in mut_path], [p[1] for p in mut_path], color='red', lw=5,
         solid_joinstyle='miter', label='Mutant F2007')
axA.set_xlim(-10, 9)
axA.set_ylim(-10, 9)
axA.xaxis.set_major_locator(MultipleLocator(5))
axA.xaxis.set_minor_locator(MultipleLocator(2.5))
axA.yaxis.set_major_locator(MultipleLocator(5))
axA.yaxis.set_minor_locator(MultipleLocator(2.5))
axA.tick_params(which='both', direction='in', width=1.5, labelsize=36)
axA.tick_params(which='major', length=20)
axA.tick_params(which='minor', length=9.5)
axA.tick_params(axis='x', pad=15)
axA.tick_params(axis='y', pad=11)
for s in axA.spines.values():
    s.set_linewidth(3.5)
axA.set_xlabel('Projection on eigenvector 1 (nm)', fontsize=47, labelpad=6)
axA.set_ylabel('Projection on eigenvector 2 (nm)', fontsize=47, labelpad=16)
leg = axA.legend(loc='upper right', bbox_to_anchor=(0.959, 0.957), fontsize=39,
                 frameon=True, fancybox=False, handlelength=1.2, handletextpad=0.6,
                 borderpad=0.3, labelspacing=0.15, borderaxespad=0)
leg.get_frame().set_edgecolor('black')
leg.get_frame().set_linewidth(3)
for h in leg.get_lines():
    h.set_linewidth(5.5)

fig.text(86 / 3588, 1 - 54 / 1513, 'A', fontsize=50, fontweight='bold',
         family=['Liberation Sans', 'DejaVu Sans'], ha='center', va='center')

# panel B
axB1 = fig.add_axes([0.5789, 0.4904, 0.4133, 0.4045])
axB2 = fig.add_axes([0.5789, 0.0905, 0.4133, 0.3999])

axB1.plot(wt_time, wt_vec1, color='black', lw=1.6)
axB1.plot(mut_time, mut_vec1, color='red', lw=1.6)
axB2.plot(wt_time, wt_vec2, color='black', lw=1.6)
axB2.plot(mut_time, mut_vec2, color='red', lw=1.6)

axB1.set_ylim(-12.6, 10.8)
axB2.set_ylim(-11.8, 10.7)
for ax, lab in ((axB1, 'vec 1'), (axB2, 'vec 2')):
    ax.set_xlim(0, 168000)
    ax.set_xticks(time_ticks)
    ax.xaxis.set_minor_locator(MultipleLocator(25000))
    ax.yaxis.set_major_locator(MultipleLocator(10))
    ax.yaxis.set_minor_locator(MultipleLocator(5))
    ax.tick_params(which='both', direction='in', width=1.8, top=True, right=True, labelsize=34)
    ax.tick_params(which='major', length=24)
    ax.tick_params(which='minor', length=12)
    ax.tick_params(axis='y', pad=11)
    ax.tick_params(axis='x', pad=15)
    for s in ax.spines.values():
        s.set_linewidth(3.5)
    ax.set_ylabel(lab, fontsize=34, labelpad=11)

axB1.set_xticklabels([])
axB2.set_xticklabels(time_labels)
axB2.set_xlabel('Time (ps)', fontsize=35, labelpad=10)

# make sure every tick label is drawn in the serif face
for ax in (axA, axB1, axB2):
    for t in ax.get_xticklabels() + ax.get_yticklabels():
        t.set_fontfamily(serif)

fig.text((0.5789 + 0.4133 / 2), 1 - 92 / 1513, 'Projection on eigenvectors (nm)',
         fontsize=52, ha='center', va='center')
fig.text(1959 / 3588, 1 - 72 / 1513, 'B', fontsize=50, fontweight='bold',
         family=['Liberation Sans', 'DejaVu Sans'], ha='center', va='center')

fig.savefig('out.png', dpi=100)
